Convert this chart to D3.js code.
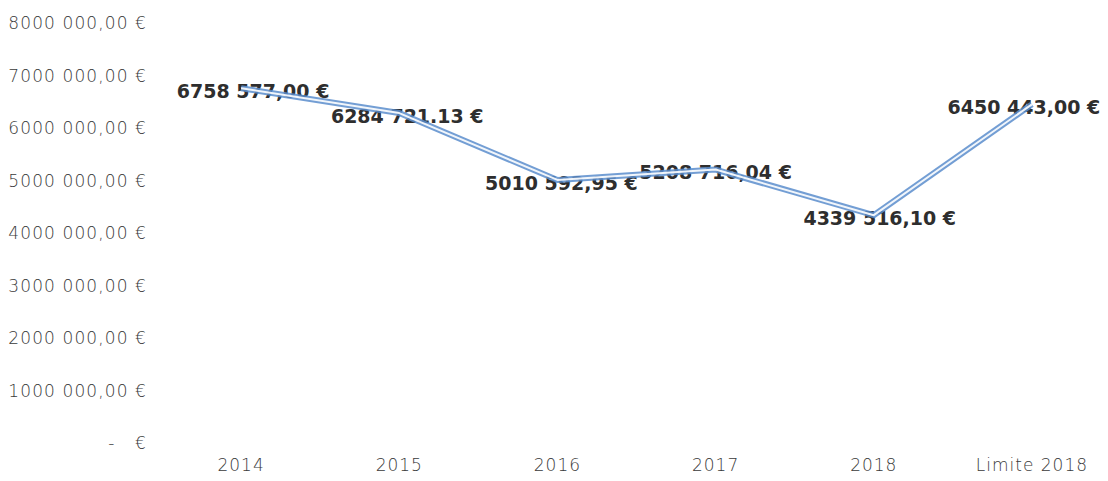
<!DOCTYPE html>
<html>
<head>
<meta charset="utf-8">
<script src="https://cdn.jsdelivr.net/npm/d3@7"></script>
<style>
  body { margin: 0; background: #fff; }
  text { font-family: "DejaVu Sans", sans-serif; }
</style>
</head>
<body>
<script>
// chart data
const categories = ["2014", "2015", "2016", "2017", "2018", "Limite 2018"]
const values = [6758577.00, 6284721.13, 5010592.95, 5208716.04, 4339516.10, 6450443.00]
const valueLabels = ["6758 577,00 €", "6284 721.13 €", "5010 592,95 €", "5208 716,04 €", "4339 516,10 €", "6450 443,00 €"]
const yTicks = [0, 1000000, 2000000, 3000000, 4000000, 5000000, 6000000, 7000000, 8000000]
const yTickLabels = ["-   €", "1000 000,00 €", "2000 000,00 €", "3000 000,00 €", "4000 000,00 €", "5000 000,00 €", "6000 000,00 €", "7000 000,00 €", "8000 000,00 €"]

const w = 1108
const h = 481

const svg = d3.select("body")
  .append("svg")
  .attr("width", w)
  .attr("height", h)

// scales
const x = d3.scaleBand()
  .domain(categories)
  .range([162, 1111])
  .padding(0)

const y = d3.scaleLinear()
  .domain([0, 8000000])
  .range([443, 23])

// y axis (no line, no ticks)
const yAxis = d3.axisLeft(y)
  .tickValues(yTicks)
  .tickSize(0)
  .tickPadding(0)
  .tickFormat((d, i) => yTickLabels[i])

svg.append("g")
  .attr("transform", "translate(147,0)")
  .call(yAxis)
  .call(g => g.select(".domain").remove())
  .selectAll("text")
  .attr("font-family", "'DejaVu Sans', sans-serif")
  .attr("font-size", 17)
  .attr("font-weight", 200)
  .attr("letter-spacing", 1.1)
  .attr("fill", "#3a3a3a")
  .attr("dy", "0.35em")
  .style("white-space", "pre")

// x axis
const xAxis = d3.axisBottom(x).tickSize(0).tickPadding(0)

svg.append("g")
  .attr("transform", "translate(0,459)")
  .call(xAxis)
  .call(g => g.select(".domain").remove())
  .selectAll("text")
  .attr("font-family", "'DejaVu Sans', sans-serif")
  .attr("font-size", 17)
  .attr("font-weight", 200)
  .attr("letter-spacing", 1)
  .attr("fill", "#3a3a3a")
  .attr("dy", "0.71em")

const cx = d => x(d) + x.bandwidth() / 2

// data labels
svg.selectAll(".lbl")
  .data(categories)
  .enter()
  .append("text")
  .attr("class", "lbl")
  .attr("x", (d, i) => cx(d) + [12, 8, 4, 0, 6, -8][i])
  .attr("y", (d, i) => y(values[i]) + 3)
  .attr("dy", "0.35em")
  .attr("text-anchor", "middle")
  .attr("font-size", 19)
  .attr("font-weight", "bold")
  .attr("fill", "#2e2e2e")
  .text((d, i) => valueLabels[i])

// double line: blue outer, white inner
const line = d3.line()
  .x(d => cx(d))
  .y((d, i) => y(values[i]))

svg.append("path")
  .datum(categories)
  .attr("d", line)
  .attr("fill", "none")
  .attr("stroke", "#5b8dcc")
  .attr("stroke-opacity", 0.85)
  .attr("stroke-width", 6)
  .attr("stroke-linejoin", "round")

svg.append("path")
  .datum(categories)
  .attr("d", line)
  .attr("fill", "none")
  .attr("stroke", "#ffffff")
  .attr("stroke-opacity", 0.9)
  .attr("stroke-width", 2)
  .attr("stroke-linejoin", "round")
</script>
</body>
</html>
